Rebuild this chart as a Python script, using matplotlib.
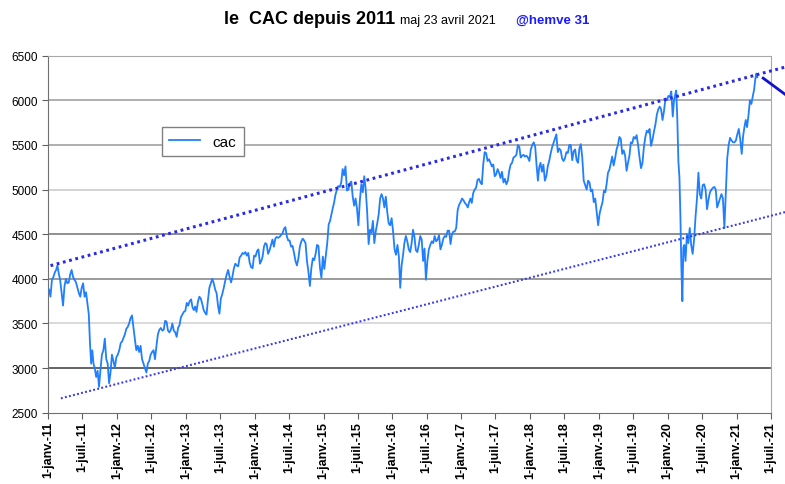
import calendar
from datetime import date, datetime, timedelta

import matplotlib
matplotlib.use("Agg")
import matplotlib.pyplot as plt
import matplotlib.dates as mdates

plt.rcParams['font.family'] = ['Liberation Sans', 'DejaVu Sans']

# valeurs du CAC, ~4 points par mois
cac_2011 = [[3880, 3800, 3990, 4020], [4070, 4100, 4150, 4060], [3990, 3850, 3700, 3920],
            [4000, 3950, 3960, 4050], [4100, 4020, 3990, 3960], [3900, 3840, 3800, 3900],
            [3950, 3800, 3850, 3720], [3600, 3280, 3050, 3200, 3050], [3000, 2900, 2970, 2790],
            [2980, 3150, 3200, 3330], [3100, 3050, 2830, 2950], [3150, 3080, 3000, 3120]]
cac_2012 = [[3150, 3200, 3280, 3300], [3340, 3380, 3440, 3460], [3500, 3560, 3590, 3450],
            [3320, 3200, 3250, 3180], [3250, 3100, 3050, 3000], [2950, 3050, 3080, 3150],
            [3180, 3200, 3100, 3250], [3380, 3430, 3450, 3420], [3430, 3530, 3520, 3420],
            [3400, 3430, 3500, 3420], [3400, 3350, 3450, 3480], [3570, 3600, 3630, 3640]]
cac_2013 = [[3730, 3700, 3750, 3770], [3680, 3650, 3690, 3630], [3740, 3800, 3780, 3720],
            [3650, 3620, 3600, 3760], [3900, 3950, 4000, 3950], [3880, 3840, 3700, 3610],
            [3780, 3830, 3900, 3980], [4050, 4100, 4020, 3960], [4030, 4120, 4170, 4150],
            [4140, 4240, 4260, 4290], [4280, 4300, 4260, 4290], [4180, 4130, 4120, 4260]]
cac_2014 = [[4250, 4310, 4330, 4170], [4200, 4250, 4360, 4400], [4390, 4280, 4320, 4380],
            [4440, 4360, 4450, 4470], [4460, 4470, 4490, 4510], [4560, 4580, 4480, 4430],
            [4430, 4360, 4370, 4290], [4200, 4150, 4230, 4360], [4420, 4450, 4430, 4400],
            [4200, 4080, 3920, 4120], [4230, 4210, 4280, 4380], [4370, 4130, 4010, 4250]]
cac_2015 = [[4110, 4250, 4400, 4610], [4650, 4720, 4790, 4850], [4940, 5000, 5040, 5030],
            [5080, 5230, 5160, 5260], [4990, 5000, 5070, 5090], [4920, 4820, 4900, 4790],
            [4600, 4880, 5060, 4970], [5150, 5000, 4750, 4390], [4550, 4520, 4650, 4400],
            [4530, 4620, 4720, 4900], [4950, 4900, 4800, 4920], [4750, 4620, 4600, 4680]]
cac_2016 = [[4530, 4330, 4270, 4380], [4250, 3900, 4150, 4260], [4400, 4480, 4420, 4330],
            [4300, 4400, 4550, 4470], [4320, 4300, 4380, 4480], [4440, 4200, 4340, 3990],
            [4200, 4330, 4380, 4420], [4400, 4480, 4420, 4440], [4490, 4330, 4380, 4450],
            [4480, 4470, 4540, 4540], [4390, 4500, 4530, 4530], [4570, 4770, 4830, 4860]]
cac_2017 = [[4900, 4880, 4850, 4830], [4800, 4860, 4900, 4850], [4960, 5000, 5020, 5110],
            [5120, 5080, 5060, 5280], [5420, 5410, 5320, 5340], [5300, 5260, 5280, 5150],
            [5170, 5230, 5190, 5130], [5200, 5080, 5120, 5060], [5100, 5210, 5280, 5300],
            [5360, 5370, 5390, 5500], [5480, 5360, 5380, 5390], [5370, 5380, 5360, 5320]]
cac_2018 = [[5450, 5500, 5530, 5480], [5270, 5100, 5250, 5300], [5200, 5280, 5100, 5150],
            [5260, 5320, 5400, 5470], [5520, 5570, 5620, 5420], [5460, 5440, 5350, 5320],
            [5350, 5420, 5410, 5500], [5500, 5330, 5430, 5450], [5330, 5300, 5460, 5510],
            [5360, 5100, 5050, 5000], [5100, 5080, 4980, 5000], [4860, 4900, 4750, 4600]]
cac_2019 = [[4730, 4800, 4860, 4990], [4970, 5070, 5190, 5220], [5290, 5370, 5270, 5350],
            [5450, 5500, 5590, 5570], [5400, 5440, 5380, 5210], [5300, 5380, 5530, 5520],
            [5590, 5570, 5610, 5500], [5360, 5240, 5300, 5480], [5590, 5660, 5640, 5680],
            [5490, 5560, 5650, 5730], [5840, 5900, 5930, 5900], [5780, 5880, 6020, 6000]]
cac_2020 = [[6050, 6040, 6100, 5820], [6000, 6060, 6110, 5790, 5310],
            [5140, 4700, 4120, 3750, 4350, 4380], [4200, 4500, 4400, 4570],
            [4380, 4280, 4440, 4700], [4900, 5190, 4950, 4900], [5050, 5060, 5000, 4780],
            [4890, 4970, 5000, 5020], [5030, 5000, 4800, 4850], [4900, 4950, 4900, 4570],
            [4960, 5350, 5500, 5580], [5550, 5530, 5530, 5550]]
cac_2021 = [[5620, 5680, 5560, 5400], [5600, 5700, 5780, 5700], [5830, 6000, 5960, 6050],
            [6120, 6230, 6300, 6260]]
annees = [2011, 2012, 2013, 2014, 2015, 2016, 2017, 2018, 2019, 2020, 2021]
series = [cac_2011, cac_2012, cac_2013, cac_2014, cac_2015, cac_2016, cac_2017,
          cac_2018, cac_2019, cac_2020, cac_2021]
fin_serie = date(2021, 4, 23)

# droites de tendance (canal) et fleche
canal_haut_x = [datetime(2011, 1, 13), datetime(2021, 10, 10)]
canal_haut_y = [4148, 6387]
canal_bas_x = [datetime(2011, 3, 9), datetime(2021, 10, 10)]
canal_bas_y = [2661, 4761]
fleche_x = [datetime(2021, 5, 22), datetime(2021, 10, 10)]
fleche_y = [6249, 6029]

mois_fr = {1: "janv.", 7: "juil."}

x, y = [], []
for an, mois in zip(annees, series):
    for m, vals in enumerate(mois, start=1):
        debut = datetime(an, m, 1)
        nb = calendar.monthrange(an, m)[1]
        if an == fin_serie.year and m == fin_serie.month:
            nb = fin_serie.day
        for i, v in enumerate(vals):
            x.append(debut + timedelta(days=(i + 0.5) * nb / len(vals)))
            y.append(v)

fig = plt.figure(figsize=(7.85, 4.85), dpi=100)
ax = fig.add_axes([0.0615, 0.147, 0.9203, 0.736])

grilles = {3000: '#3a3a3a', 3500: '#cfcfcf', 4000: '#808080', 4500: '#707070',
           5000: '#c8c8c8', 5500: '#9a9a9a', 6000: '#9a9a9a'}
for niv, c in grilles.items():
    ax.axhline(niv, color=c, lw=1.1, zorder=1)

ax.plot(x, y, color='#1f7fff', lw=1.3, label='cac', zorder=3)
ax.plot(canal_haut_x, canal_haut_y, color='#2a2ae6', lw=2.2, ls=(0, (0.9, 1.2)),
        clip_on=False, zorder=4)
ax.plot(canal_bas_x, canal_bas_y, color='#3a3ae8', lw=1.5, ls=(0, (0.9, 1.1)),
        clip_on=False, zorder=4)
ax.plot(fleche_x, fleche_y, color='#1010d0', lw=2.0, clip_on=False, zorder=4)

ax.set_xlim(datetime(2011, 1, 1), datetime(2021, 7, 1))
ax.set_ylim(2500, 6500)
ax.set_yticks(range(2500, 6501, 500))
ax.tick_params(axis='y', labelsize=8.5, length=4, direction='out', color='#606060')

ticks, labels = [], []
for an in range(2011, 2022):
    for m in (1, 7):
        ticks.append(datetime(an, m, 1))
        labels.append("1-%s-%02d" % (mois_fr[m], an % 100))
ax.set_xticks(mdates.date2num(ticks))
ax.set_xticklabels(labels, rotation=90, fontsize=9, fontweight='bold')
ax.tick_params(axis='x', length=4, direction='out', color='#606060', pad=2)

for s in ('left', 'bottom'):
    ax.spines[s].set_color('#707070')
for s in ('top', 'right'):
    ax.spines[s].set_color('#a8a8a8')

leg = ax.legend(loc='upper left', bbox_to_anchor=(0.157, 0.80), borderaxespad=0,
                fancybox=False, edgecolor='#808080', fontsize=11, handlelength=2.0,
                borderpad=0.5, framealpha=1)
leg.get_frame().set_linewidth(1.0)

fig.text(395 / 785, 1 - 24 / 485, "le  CAC depuis 2011", ha='right', va='baseline',
         fontsize=13, fontweight='bold')
fig.text(400 / 785, 1 - 24 / 485, "maj 23 avril 2021", ha='left', va='baseline',
         fontsize=9)
fig.text(516 / 785, 1 - 24 / 485, "@hemve 31", ha='left', va='baseline',
         fontsize=9.5, fontweight='bold', color='#1a1aff')

fig.savefig('out.png', dpi=100)
